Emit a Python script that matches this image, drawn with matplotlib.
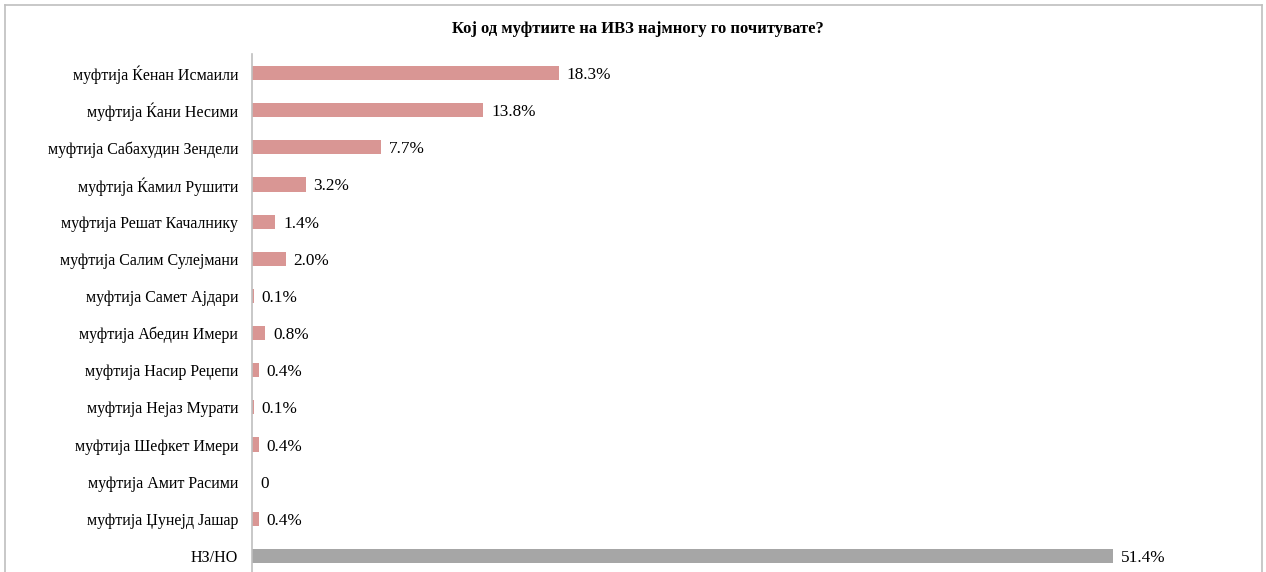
import matplotlib
matplotlib.use('Agg')
import matplotlib.pyplot as plt
import matplotlib.transforms as mtransforms
from matplotlib.lines import Line2D

# Data
categories = [
    'муфтија Ќенан Исмаили',
    'муфтија Ќани Несими',
    'муфтија Сабахудин Зендели',
    'муфтија Ќамил Рушити',
    'муфтија Решат Качалнику',
    'муфтија Салим Сулејмани',
    'муфтија Самет Ајдари',
    'муфтија Абедин Имери',
    'муфтија Насир Реџепи',
    'муфтија Нејаз Мурати',
    'муфтија Шефкет Имери',
    'муфтија Амит Расими',
    'муфтија Џунејд Јашар',
    'НЗ/НО',
]
values = [18.3, 13.8, 7.7, 3.2, 1.4, 2.0, 0.1, 0.8, 0.4, 0.1, 0.4, 0.0, 0.4, 51.4]
value_labels = ['18.3%', '13.8%', '7.7%', '3.2%', '1.4%', '2.0%', '0.1%', '0.8%',
                '0.4%', '0.1%', '0.4%', '0', '0.4%', '51.4%']
title = 'Кој од муфтиите на ИВЗ најмногу го почитувате?'

plt.rcParams['font.family'] = ['Liberation Serif', 'DejaVu Serif']

W, H = 1266, 572
fig = plt.figure(figsize=(W / 100, H / 100), dpi=100)

# axes placed in pixel terms: left edge 252, top ~55, bottom slightly below image
left, right = 252, 1250
top, bottom = 54.4, 574.6
ax = fig.add_axes([left / W, 1 - bottom / H, (right - left) / W, (bottom - top) / H])

colors = ['#D99694'] * (len(values) - 1) + ['#A6A6A6']
ypos = list(range(len(values)))
ax.barh(ypos, values, height=0.38, color=colors)
ax.set_ylim(len(values) - 0.5, -0.5)
ax.set_xlim(0, (right - left) / 16.75)

# value labels, shifted a few pixels right of the bar end
offset = mtransforms.ScaledTranslation(8 / 100, 0, fig.dpi_scale_trans)
for y, v, lab in zip(ypos, values, value_labels):
    ax.text(v, y, lab, ha='left', va='center_baseline', fontsize=12.4,
            transform=ax.transData + offset)

ax.set_yticks(ypos)
ax.set_yticklabels(categories, fontsize=11.5)
ax.tick_params(axis='y', length=0, pad=10)
ax.set_xticks([])
for s in ['top', 'right', 'bottom']:
    ax.spines[s].set_visible(False)
ax.spines['left'].set_color('#BFBFBF')
ax.spines['left'].set_linewidth(1.2)

fig.text(638 / W, 1 - 27 / H, title, ha='center', va='center_baseline',
         fontsize=12, fontweight='bold')

# outer chart border
bc = '#BFBFBF'
x0, x1, y0 = 4.5 / W, 1261.5 / W, 1 - 4.5 / H
fig.add_artist(Line2D([x0, x1], [y0, y0], color=bc, lw=1.2, transform=fig.transFigure))
fig.add_artist(Line2D([x0, x0], [y0, 0], color=bc, lw=1.2, transform=fig.transFigure))
fig.add_artist(Line2D([x1, x1], [y0, 0], color=bc, lw=1.2, transform=fig.transFigure))

fig.savefig('out.png', dpi=100)
